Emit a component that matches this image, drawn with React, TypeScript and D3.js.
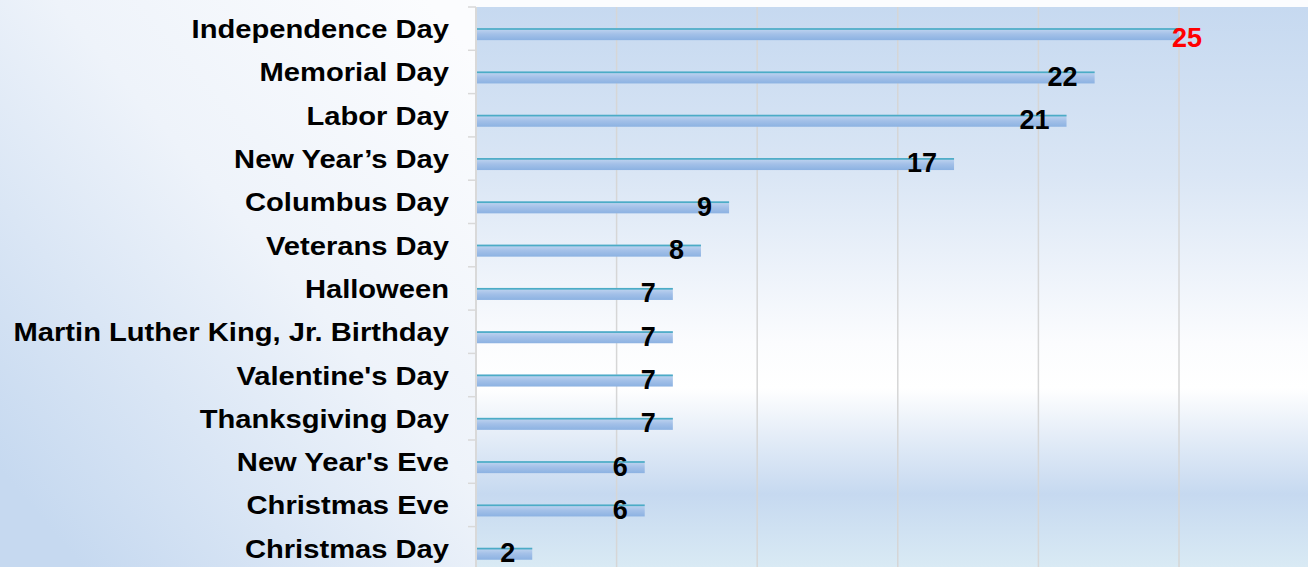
import React from "react";
import * as d3 from "d3";

// holidays, sorted the way the chart lists them (top to bottom)
const holidays = [
  "Independence Day",
  "Memorial Day",
  "Labor Day",
  "New Year’s Day",
  "Columbus Day",
  "Veterans Day",
  "Halloween",
  "Martin Luther King, Jr. Birthday",
  "Valentine's Day",
  "Thanksgiving Day",
  "New Year's Eve",
  "Christmas Eve",
  "Christmas Day",
];
const counts = [25, 22, 21, 17, 9, 8, 7, 7, 7, 7, 6, 6, 2];
const gridTicks = [0, 5, 10, 15, 20, 25, 30];

const W = 1308;
const H = 567;
const left = 476;
const top = 7;
const font = "Arial, 'Liberation Sans', sans-serif";

const App = () => {
  const x = d3.scaleLinear().domain([0, 30]).range([left, left + 30 * 28.12]);
  const y = d3
    .scaleBand()
    .domain(holidays)
    .range([top, top + 13 * 43.3])
    .padding(0);
  const bw = y.bandwidth();
  const barH = 12;

  return (
    <svg
      width={W}
      height={H}
      style={{ position: "fixed", left: 0, top: 0, display: "block" }}
    >
      <defs>
        <linearGradient id="outerBg" gradientUnits="userSpaceOnUse" x1="480" y1="60" x2="0" y2="470">
          <stop offset="0" stopColor="#fbfcfe" />
          <stop offset="0.45" stopColor="#eef3fa" />
          <stop offset="1" stopColor="#c6d9f0" />
        </linearGradient>
        <linearGradient id="plotBg" x1="0" y1="0" x2="0" y2="1">
          <stop offset="0" stopColor="#c6d9f0" />
          <stop offset="0.3" stopColor="#dae6f5" />
          <stop offset="0.6" stopColor="#fbfcfe" />
          <stop offset="0.68" stopColor="#ffffff" />
          <stop offset="0.76" stopColor="#e6eef8" />
          <stop offset="0.87" stopColor="#c6d9f0" />
          <stop offset="1" stopColor="#d9eaf4" />
        </linearGradient>
        <linearGradient id="barFill" x1="0" y1="0" x2="0" y2="1">
          <stop offset="0" stopColor="#c4d7f1" />
          <stop offset="0.5" stopColor="#a3c0e8" />
          <stop offset="1" stopColor="#8cb2e2" />
        </linearGradient>
      </defs>

      <rect width={W} height={H} fill="url(#outerBg)" />
      <rect x={left} y={top} width={W - left} height={H - top} fill="url(#plotBg)" />

      {/* vertical gridlines */}
      {gridTicks.slice(1).map((t) => (
        <line
          key={t}
          x1={x(t)}
          x2={x(t)}
          y1={top}
          y2={H}
          stroke="#d6d6d6"
          strokeWidth={1.5}
        />
      ))}

      {/* category axis with ticks */}
      <line x1={left} x2={left} y1={top} y2={H} stroke="#d9d9d9" strokeWidth={2} />
      {holidays.map((h) => (
        <line
          key={h}
          x1={left - 8}
          x2={left}
          y1={y(h)}
          y2={y(h)}
          stroke="#d9d9d9"
          strokeWidth={1.5}
        />
      ))}

      {/* bars */}
      {holidays.map((h, i) => {
        const y0 = y(h) + bw / 2 - 0.5;
        return (
          <g key={h}>
            <rect
              x={x(0) + 1}
              y={y0}
              width={x(counts[i]) - x(0) - 1}
              height={barH}
              fill="url(#barFill)"
            />
            <rect
              x={x(0) + 1}
              y={y0}
              width={x(counts[i]) - x(0) - 1}
              height={1.7}
              fill="#4bacc6"
            />
          </g>
        );
      })}

      {/* category labels */}
      {holidays.map((h) => (
        <text
          key={h}
          transform={`translate(449, ${y(h) + bw / 2 + 9.5}) scale(1.1, 1)`}
          textAnchor="end"
          fontFamily={font}
          fontWeight="bold"
          fontSize={26.5}
          fill="#000"
        >
          {h}
        </text>
      ))}

      {/* value labels */}
      {holidays.map((h, i) => {
        const first = i === 0;
        return (
          <text
            key={h}
            x={first ? x(counts[i]) - 7 : x(counts[i]) - 17}
            y={y(h) + (first ? 40 : 35.5)}
            textAnchor={first ? "start" : "end"}
            fontFamily={font}
            fontWeight="bold"
            fontSize={27}
            fill={first ? "#ff0000" : "#000"}
          >
            {counts[i]}
          </text>
        );
      })}
    </svg>
  );
};

export default App;
